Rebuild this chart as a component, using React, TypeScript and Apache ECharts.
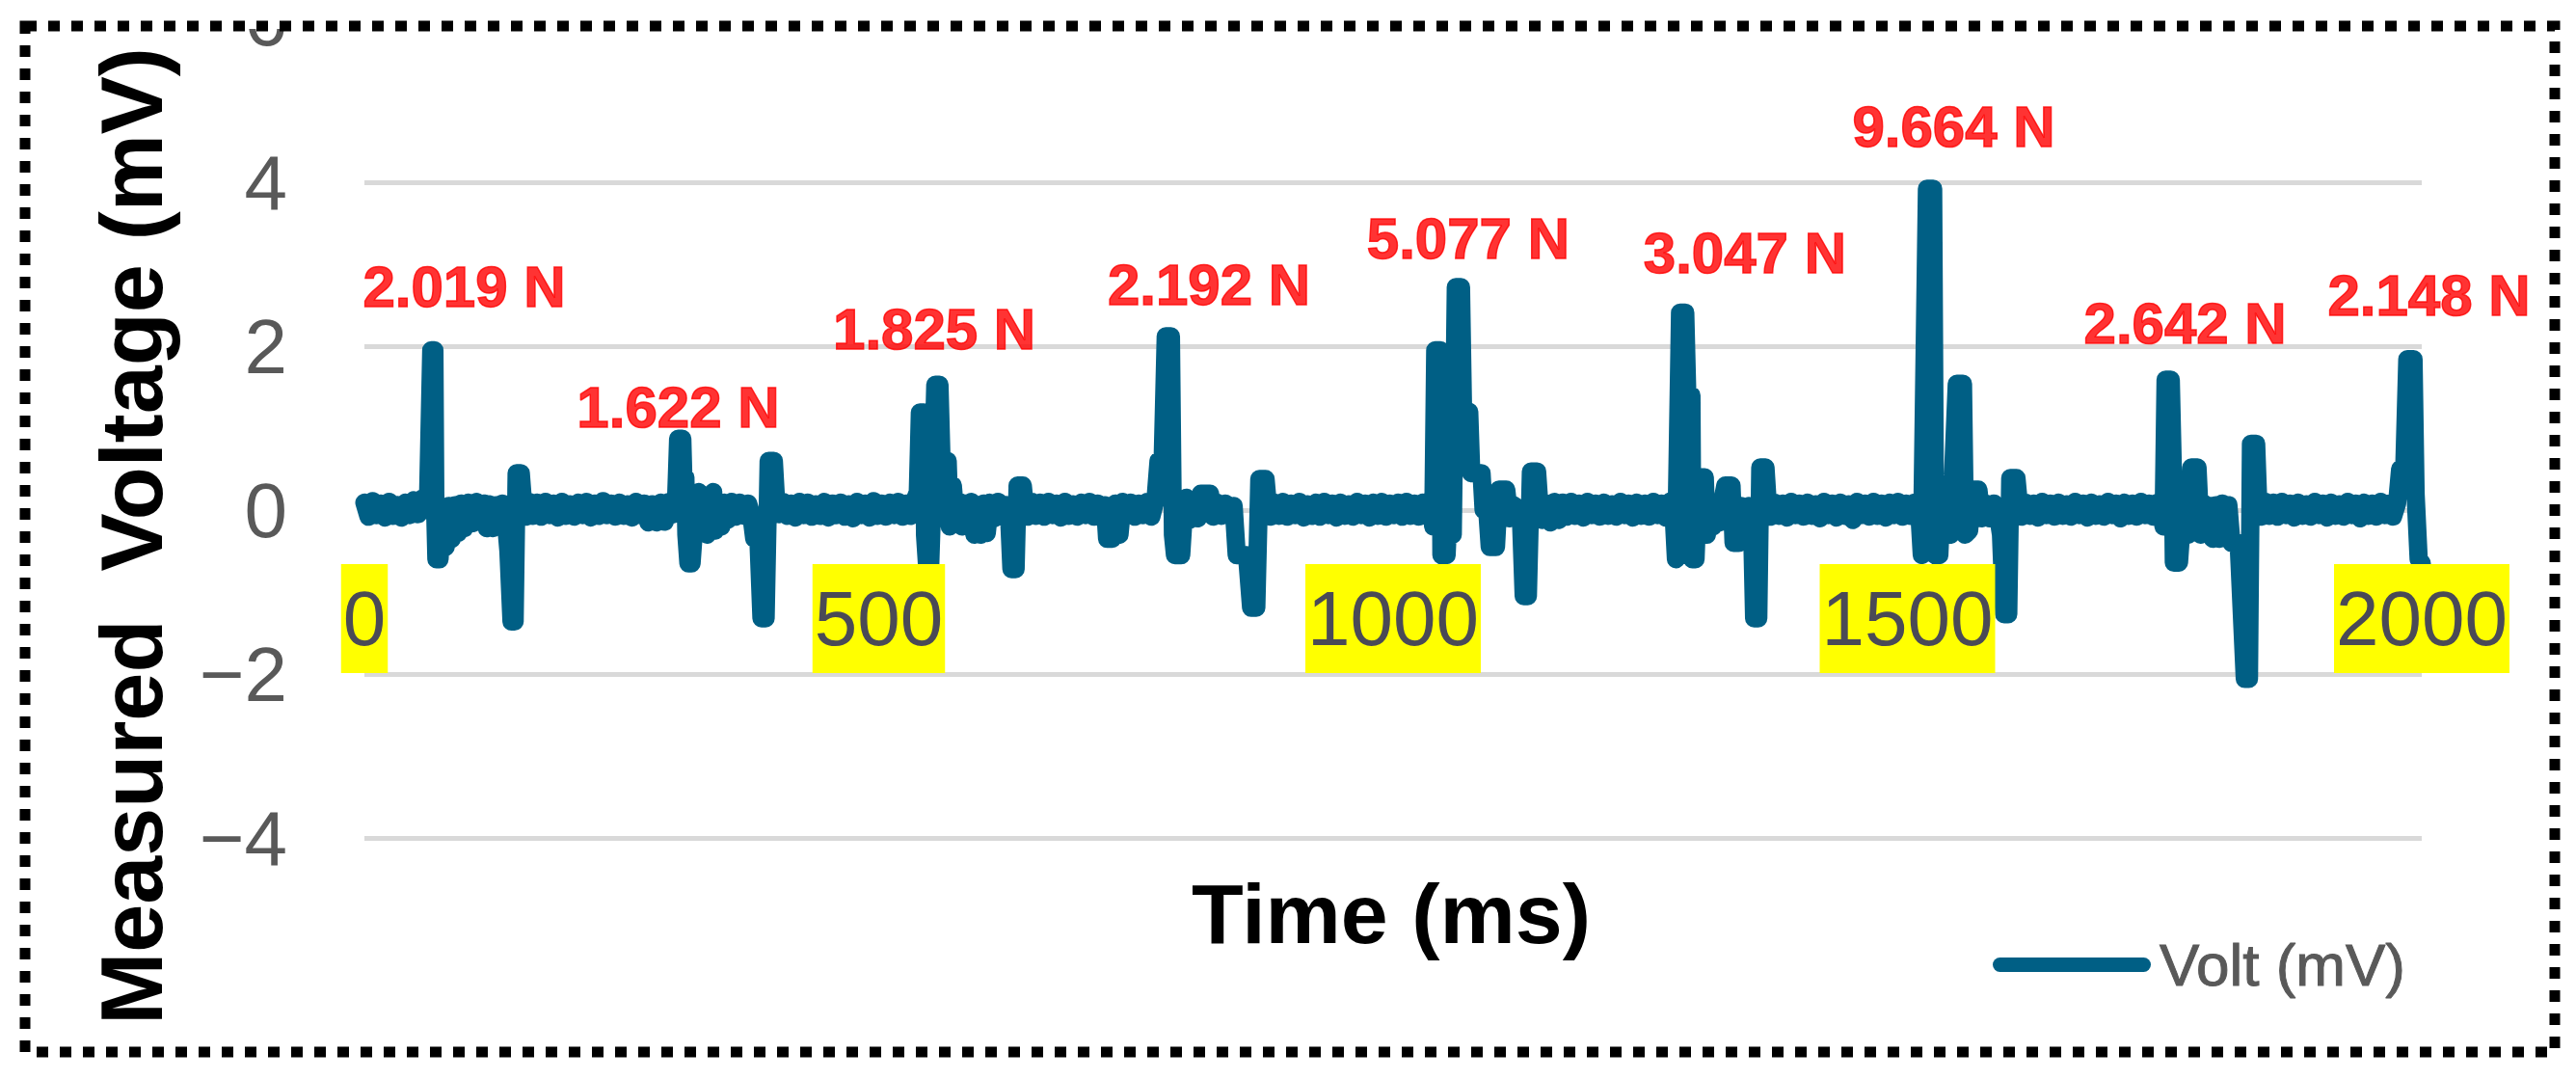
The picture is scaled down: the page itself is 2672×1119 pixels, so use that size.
import React, { useEffect, useRef } from "react";
import * as echarts from "echarts";

// Measured voltage trace (time in ms, voltage in mV)
const trace0to400: [number, number][] = [
  [0, 0.09], [4, -0.08], [8, 0.11], [12, -0.06], [16, 0.08], [20, -0.09], [24, 0.1], [28, -0.07], [32, 0.06], [36, -0.09],
  [40, 0.09], [44, -0.06], [48, 0.12], [52, -0.05], [56, 0.14], [59, 0.0], [62, 0.2],
  [65, 1.95], [68, 1.95], [69, -0.1], [70, -0.6], [73, -0.6], [75, -0.2], [77, 0.02], [79, -0.45], [82, 0.05], [85, -0.35],
  [88, 0.06], [91, -0.28], [94, 0.08], [97, -0.22], [101, 0.09], [105, -0.16], [109, 0.1], [113, -0.13], [116, 0.08],
  [119, -0.22], [122, 0.07], [125, -0.22], [128, 0.06], [131, -0.1], [134, 0.08], [137, -0.05], [140, -0.5], [143, -1.36],
  [146, -1.36], [148, 0.45], [152, 0.45], [154, 0.12], [157, -0.08], [160, 0.1], [164, -0.07], [168, 0.09],
  [172, -0.08], [176, 0.1], [180, -0.06], [184, 0.08], [188, -0.09], [192, 0.1], [196, -0.07], [200, 0.07], [204, -0.08],
  [208, 0.09], [212, -0.06], [216, 0.1], [220, -0.09], [224, 0.08], [228, -0.07], [232, 0.11], [236, -0.06], [240, 0.08],
  [244, -0.08], [248, 0.09], [252, -0.07], [256, 0.07], [260, -0.09], [264, 0.1], [268, -0.06], [272, 0.08], [276, -0.15],
  [280, 0.07], [284, -0.15], [288, 0.09], [292, -0.14], [296, 0.1], [300, -0.05], [303, 0.12],
  [305, 0.87], [309, 0.87], [310, 0.4], [312, 0.4], [313, -0.3], [315, -0.65], [318, -0.65], [320, -0.3], [322, 0.05],
  [325, 0.22], [327, -0.28], [330, 0.08], [333, -0.3], [336, 0.1], [339, 0.22], [341, -0.25], [344, 0.08], [347, -0.2],
  [350, 0.09], [353, -0.12], [357, 0.1], [361, -0.08], [365, 0.09], [369, -0.07], [373, 0.08], [376, -0.05], [379, -0.35],
  [383, -0.35], [386, -1.32], [390, -1.32], [393, 0.6], [398, 0.6],
];

const trace400to800: [number, number][] = [
  [400, 0.15], [403, -0.05], [407, 0.1], [411, -0.07], [415, 0.08], [419, -0.09], [423, 0.1], [427, -0.06], [431, 0.09],
  [435, -0.08], [439, 0.07], [443, -0.07], [447, 0.1], [451, -0.09], [455, 0.08], [459, -0.06], [463, 0.09], [467, -0.08],
  [471, 0.07], [475, -0.1], [479, 0.1], [483, -0.06], [487, 0.08], [491, -0.09], [495, 0.11], [499, -0.07], [503, 0.08],
  [507, -0.08], [511, 0.09], [515, -0.06], [519, 0.1], [523, -0.08], [527, 0.08], [531, -0.07], [535, 0.12], [538, 0.22],
  [540, 1.19], [544, 1.19], [545, -0.3], [547, -0.68], [550, -0.68], [552, 0.1], [555, 1.53], [559, 1.53], [561, 0.6],
  [567, 0.6], [569, -0.2], [572, 0.3], [575, -0.15], [578, 0.1], [581, -0.2], [584, 0.08], [587, -0.12], [590, 0.1],
  [593, -0.3], [596, 0.05], [599, -0.3], [602, 0.08], [605, -0.28], [608, 0.09], [612, -0.1], [616, 0.1], [620, -0.08],
  [624, 0.06], [627, -0.15], [629, -0.72], [633, -0.72], [635, 0.3], [640, 0.3], [642, 0.05], [645, -0.08], [649, 0.1],
  [653, -0.07], [657, 0.09], [661, -0.08], [665, 0.1], [669, -0.06], [673, 0.08], [677, -0.09], [681, 0.1], [685, -0.07],
  [689, 0.07], [693, -0.08], [697, 0.09], [701, -0.06], [705, 0.1], [709, -0.08], [713, 0.08], [717, -0.1], [720, 0.06],
  [722, -0.35], [727, -0.35], [730, 0.08], [734, -0.3], [737, 0.1], [741, -0.07], [745, 0.09], [749, -0.08], [753, 0.08],
  [757, -0.06], [761, 0.1], [765, -0.08], [769, 0.12], [772, 0.6], [776, 0.6], [779, 2.12], [784, 2.12], [786, -0.3],
  [788, -0.55], [794, -0.55], [796, -0.15], [799, 0.15],
];

const trace800to1200: [number, number][] = [
  [802, -0.12], [806, 0.08], [810, -0.1], [813, 0.2], [818, 0.2], [822, 0.2], [825, -0.08], [829, 0.09], [833, -0.07],
  [837, 0.08], [841, -0.06], [845, 0.05], [848, -0.55], [858, -0.55], [862, -1.19], [867, -1.19], [870, 0.38], [876, 0.38],
  [878, 0.1], [881, -0.08], [885, 0.09], [889, -0.07], [893, 0.1], [897, -0.08], [901, 0.08], [905, -0.06], [909, 0.1],
  [913, -0.09], [917, 0.07], [921, -0.07], [925, 0.09], [929, -0.08], [933, 0.1], [937, -0.06], [941, 0.08], [945, -0.09],
  [949, 0.09], [953, -0.07], [957, 0.07], [961, -0.08], [965, 0.1], [969, -0.06], [973, 0.08], [977, -0.09], [981, 0.09],
  [985, -0.07], [989, 0.1], [993, -0.08], [997, 0.08], [1001, -0.06], [1005, 0.09], [1009, -0.08], [1013, 0.1],
  [1017, -0.07], [1021, 0.08], [1025, -0.08], [1029, 0.09], [1033, -0.06], [1036, 0.12], [1039, -0.2],
  [1041, 1.95], [1046, 1.95], [1047, -0.55], [1052, -0.55], [1055, 0.3], [1058, -0.3], [1061, 2.72], [1066, 2.72],
  [1068, 1.2], [1074, 1.2], [1076, 0.45], [1086, 0.45], [1088, 0.0], [1091, 0.1], [1094, -0.45], [1100, -0.45],
  [1103, 0.25], [1110, 0.25], [1113, -0.1], [1117, 0.06], [1121, -0.08], [1124, 0.02], [1127, -1.05], [1131, -1.05],
  [1134, 0.47], [1140, 0.47], [1142, 0.1], [1145, -0.12], [1149, 0.08], [1153, -0.15], [1157, 0.1], [1161, -0.12],
  [1165, 0.09], [1169, -0.08], [1173, 0.1], [1177, -0.07], [1181, 0.08], [1185, -0.09], [1189, 0.1], [1193, -0.06],
  [1197, 0.08],
];

const trace1200to1600: [number, number][] = [
  [1201, -0.08], [1205, 0.09], [1209, -0.07], [1213, 0.07], [1217, -0.08], [1221, 0.1], [1225, -0.06], [1229, 0.08],
  [1233, -0.09], [1237, 0.09], [1241, -0.07], [1245, 0.08], [1249, -0.08], [1253, 0.1], [1257, -0.06], [1261, 0.08],
  [1265, -0.09], [1269, 0.1], [1272, 0.12], [1275, -0.6], [1279, 2.41], [1284, 2.41], [1286, 1.4], [1290, 1.4],
  [1291, -0.6], [1294, -0.6], [1297, 0.4], [1303, 0.4], [1305, -0.3], [1308, 0.1], [1311, -0.2], [1314, 0.08],
  [1317, -0.15], [1320, 0.1], [1323, 0.3], [1329, 0.3], [1331, -0.4], [1336, -0.4], [1338, 0.05], [1342, -0.1],
  [1346, 0.05], [1349, -0.2], [1351, -1.32], [1355, -1.32], [1357, 0.52], [1362, 0.52], [1364, 0.12], [1367, -0.08],
  [1371, 0.09], [1375, -0.07], [1379, 0.08], [1383, -0.09], [1387, 0.1], [1391, -0.06], [1395, 0.08], [1399, -0.08],
  [1403, 0.09], [1407, -0.07], [1411, 0.07], [1415, -0.1], [1419, 0.1], [1423, -0.06], [1427, 0.08], [1431, -0.09],
  [1435, 0.09], [1439, -0.07], [1443, 0.07], [1447, -0.12], [1451, 0.1], [1455, -0.06], [1459, 0.08], [1463, -0.08],
  [1467, 0.1], [1471, -0.07], [1475, 0.08], [1479, -0.09], [1483, 0.09], [1487, -0.06], [1491, 0.1], [1495, -0.08],
  [1499, 0.08], [1503, -0.07], [1507, 0.09], [1511, 0.1], [1514, -0.55], [1519, 3.92], [1525, 3.92], [1527, -0.55],
  [1531, -0.55], [1533, 0.05], [1536, -0.2], [1539, 0.05], [1542, -0.3], [1548, 1.54], [1554, 1.54], [1556, -0.3],
  [1560, -0.25], [1563, 0.25], [1569, 0.25], [1572, -0.1], [1576, 0.08], [1580, -0.1], [1584, 0.08], [1588, -0.05],
  [1591, -0.3], [1594, -1.27], [1598, -1.27],
];

const trace1600to2000: [number, number][] = [
  [1600, 0.39], [1606, 0.39], [1608, 0.12], [1611, -0.08], [1615, 0.09], [1619, -0.07], [1623, 0.08], [1627, -0.09],
  [1631, 0.1], [1635, -0.06], [1639, 0.08], [1643, -0.08], [1647, 0.09], [1651, -0.07], [1655, 0.07], [1659, -0.08],
  [1663, 0.1], [1667, -0.06], [1671, 0.08], [1675, -0.09], [1679, 0.09], [1683, -0.07], [1687, 0.07], [1691, -0.08],
  [1695, 0.1], [1699, -0.06], [1703, 0.08], [1707, -0.1], [1711, 0.09], [1715, -0.07], [1719, 0.08], [1723, -0.08],
  [1727, 0.1], [1731, -0.06], [1735, 0.08], [1739, -0.08], [1743, 0.09], [1746, 0.1], [1749, -0.2], [1751, 1.59],
  [1756, 1.59], [1758, 0.5], [1759, -0.64], [1764, -0.64], [1767, -0.1], [1770, 0.05], [1773, -0.3], [1776, 0.52],
  [1782, 0.52], [1785, -0.3], [1788, 0.08], [1791, -0.2], [1794, 0.05], [1797, -0.35], [1800, 0.06], [1803, -0.35],
  [1806, 0.08], [1809, -0.12], [1812, 0.06], [1815, -0.4], [1822, -0.4], [1828, -2.06], [1832, -2.06], [1834, 0.81],
  [1839, 0.81], [1841, 0.1], [1844, -0.08], [1848, 0.1], [1852, -0.07], [1856, 0.09], [1860, -0.08], [1864, 0.1],
  [1868, -0.06], [1872, 0.08], [1876, -0.09], [1880, 0.09], [1884, -0.07], [1888, 0.07], [1892, -0.08], [1896, 0.1],
  [1900, -0.06], [1904, 0.08], [1908, -0.09], [1912, 0.09], [1916, -0.07], [1920, 0.07], [1924, -0.08], [1928, 0.1],
  [1932, -0.06], [1936, 0.08], [1940, -0.1], [1944, 0.09], [1948, -0.07], [1952, 0.08], [1956, -0.08], [1960, 0.1],
  [1964, -0.06], [1968, 0.08], [1972, -0.08], [1976, 0.08], [1979, 0.5], [1983, 0.5], [1986, 1.84], [1992, 1.84],
  [1994, 0.2], [1997, -0.6], [2000, -0.65],
];

// Force annotations and their anchor positions (time ms, voltage mV)
const forceLabels = ["2.019 N", "1.622 N", "1.825 N", "2.192 N", "5.077 N", "3.047 N", "9.664 N", "2.642 N", "2.148 N"];
const forceLabelTimes = [97, 305, 554, 821, 1073, 1342, 1545, 1770, 2007];
const forceLabelVolts = [2.72, 1.25, 2.21, 2.75, 3.31, 3.14, 4.68, 2.28, 2.62];

const xTicks = [0, 500, 1000, 1500, 2000];
const yTicks = [-4, -2, 0, 2, 4, 6];

const seriesName = "Volt (mV)";
const xTitle = "Time (ms)";
const yTitle = "Measured  Voltage (mV)";

const FONT = "'Liberation Sans', Arial, Helvetica, sans-serif";
const LINE_COLOR = "#005F85";

export default function App() {
  const ref = useRef<HTMLDivElement>(null);
  useEffect(() => {
    if (!ref.current) return;
    const chart = echarts.init(ref.current, undefined, { renderer: "svg", width: 2672, height: 1119 });
    const trace = [...trace0to400, ...trace400to800, ...trace800to1200, ...trace1200to1600, ...trace1600to2000];
    const labelData = forceLabels.map((name, i) => ({ name, value: [forceLabelTimes[i], forceLabelVolts[i]] }));
    const option: any = {
      animation: false,
      backgroundColor: "#ffffff",
      color: [LINE_COLOR],
      grid: { left: 378, right: 160, top: 19, bottom: 250, containLabel: false, outerBoundsMode: "none" },
      xAxis: {
        type: "value",
        min: xTicks[0],
        max: xTicks[xTicks.length - 1],
        interval: xTicks[1] - xTicks[0],
        position: "bottom",
        offset: -340,
        z: 10,
        axisLine: { show: false, onZero: false },
        axisTick: { show: false },
        splitLine: { show: false },
        axisLabel: {
          margin: 56,
          fontSize: 80,
          fontFamily: FONT,
          color: "#4a4a56",
          backgroundColor: "#ffff00",
          padding: [0, 2],
          lineHeight: 113,
          showMinLabel: true,
          showMaxLabel: true,
          formatter: (v: number) => String(v),
        },
      },
      yAxis: {
        type: "value",
        min: yTicks[0],
        max: yTicks[yTicks.length - 1],
        interval: yTicks[1] - yTicks[0],
        axisLine: { show: false, onZero: false },
        axisTick: { show: false },
        splitLine: { show: true, lineStyle: { color: "#d9d9d9", width: 5 } },
        axisLabel: {
          margin: 80,
          fontSize: 80,
          fontFamily: FONT,
          color: "#595959",
          formatter: (v: number) => (v < 0 ? "\u2212" + Math.abs(v) : String(v)),
        },
      },
      legend: {
        left: 2067,
        top: 969,
        padding: 0,
        itemWidth: 164,
        itemHeight: 15,
        icon: "path://M7.5,0 L156.5,0 A7.5,7.5 0 0 1 156.5,15 L7.5,15 A7.5,7.5 0 0 1 7.5,0 Z",
        data: [seriesName],
        textStyle: {
          fontSize: 62,
          lineHeight: 62,
          color: "#595959",
          fontFamily: FONT,
          padding: [0, 0, 0, 4],
          textBorderColor: "#595959",
          textBorderWidth: 1,
        },
      },
      series: [
        {
          name: seriesName,
          type: "line",
          data: trace,
          showSymbol: false,
          symbol: "none",
          lineStyle: { color: LINE_COLOR, width: 19, cap: "round", join: "round" },
          itemStyle: { color: LINE_COLOR },
          z: 2,
        },
        {
          name: "force",
          type: "scatter",
          data: labelData,
          symbol: "circle",
          symbolSize: 1,
          itemStyle: { color: "rgba(255,255,255,0)" },
          clip: false,
          silent: true,
          z: 5,
          label: {
            show: true,
            position: "inside",
            formatter: (p: any) => p.name,
            fontSize: 60,
            fontWeight: "bold",
            fontFamily: FONT,
            color: "#ff0000",
            textBorderColor: "#ff0000",
            textBorderWidth: 1.5,
          },
          labelLayout: { hideOverlap: false },
        },
      ],
      graphic: [
        {
          type: "text",
          x: 137,
          y: 556,
          rotation: Math.PI / 2,
          z: 20,
          style: {
            text: yTitle,
            fontSize: 90,
            fontWeight: "bold",
            fontFamily: FONT,
            fill: "#000000",
            align: "center",
            verticalAlign: "middle",
          },
        },
        {
          type: "text",
          x: 1443,
          y: 947,
          z: 20,
          style: {
            text: xTitle,
            fontSize: 88,
            fontWeight: "bold",
            fontFamily: FONT,
            fill: "#000000",
            align: "center",
            verticalAlign: "middle",
          },
        },
        {
          type: "rect",
          z: 90,
          shape: { x: 0, y: 0, width: 2672, height: 30 },
          style: { fill: "#ffffff" },
        },
        {
          type: "rect",
          z: 100,
          shape: { x: 26, y: 27, width: 2624, height: 1064 },
          style: { fill: "none", stroke: "#000000", lineWidth: 11, lineDash: [12, 12] },
        },
      ],
    };
    chart.setOption(option);
    return () => chart.dispose();
  }, []);
  return (
    <div
      ref={ref}
      style={{ position: "fixed", left: 0, top: 0, width: 2672, height: 1119, background: "#ffffff" }}
    />
  );
}
